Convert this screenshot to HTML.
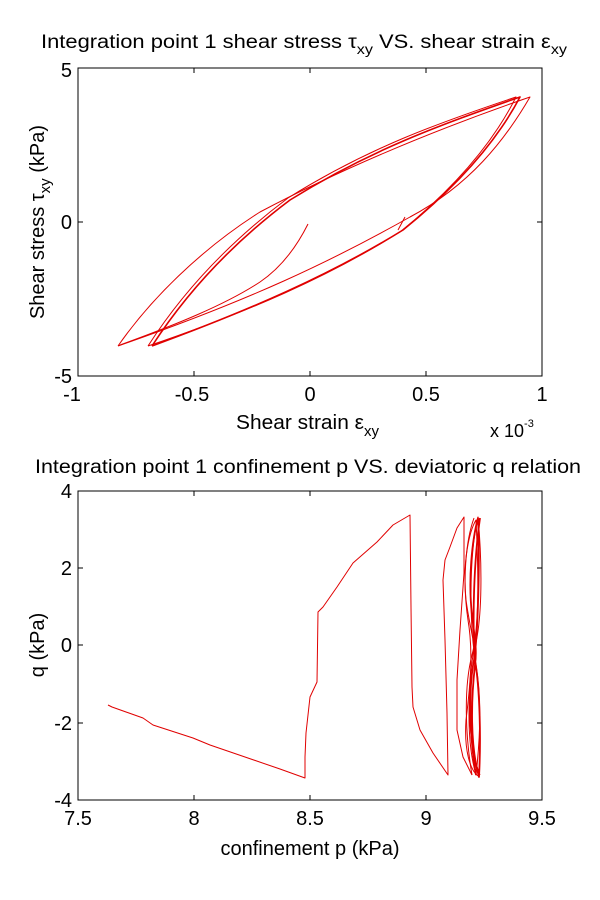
<!DOCTYPE html>
<html><head><meta charset="utf-8"><style>
html,body{margin:0;padding:0;background:#fff}
svg{display:block}
text{font-family:"Liberation Sans",Arial,sans-serif;fill:#000}
</style></head><body>
<svg width="600" height="900" viewBox="0 0 600 900" xmlns="http://www.w3.org/2000/svg">
<rect width="600" height="900" fill="#fff"/>
<!-- TOP AXES -->
<text x="304" y="48" font-size="19" text-anchor="middle" textLength="526" lengthAdjust="spacingAndGlyphs">Integration point 1 shear stress τ<tspan font-size="14" dy="6">xy</tspan><tspan dy="-6"> VS. shear strain ε</tspan><tspan font-size="14" dy="6">xy</tspan></text>
<rect x="78" y="68" width="464" height="308" fill="none" stroke="#000" stroke-width="1"/>
<g stroke="#000" stroke-width="1">
<line x1="194" y1="68" x2="194" y2="73"/><line x1="310" y1="68" x2="310" y2="73"/><line x1="426" y1="68" x2="426" y2="73"/>
<line x1="194" y1="376" x2="194" y2="371"/><line x1="310" y1="376" x2="310" y2="371"/><line x1="426" y1="376" x2="426" y2="371"/>
<line x1="78" y1="222" x2="83" y2="222"/><line x1="542" y1="222" x2="537" y2="222"/>
</g>
<g font-size="20" text-anchor="end">
<text x="72" y="77">5</text><text x="72" y="229">0</text><text x="72" y="383">-5</text>
</g>
<g font-size="20" text-anchor="middle">
<text x="72" y="401">-1</text><text x="192" y="401">-0.5</text><text x="310" y="401">0</text><text x="426" y="401">0.5</text><text x="542" y="401">1</text>
</g>
<text x="236" y="429" font-size="20" textLength="128" lengthAdjust="spacingAndGlyphs">Shear strain ε</text><text x="364" y="436" font-size="15">xy</text>
<text x="490" y="437" font-size="18">x 10<tspan font-size="11" dy="-10">-3</tspan></text>
<text transform="translate(44,222) rotate(-90)" font-size="20" text-anchor="middle">Shear stress τ<tspan font-size="15" dy="6">xy</tspan><tspan dy="-6"> (kPa)</tspan></text>
<g fill="none" stroke="#e00000" stroke-width="1" stroke-linejoin="round">
<path d="M308,224 C300,240 285,265 260,282 C225,305 175,325 120,345"/>
<path d="M118,346 C150,300 200,250 260,212 C330,175 420,135 530,97 C505,140 470,185 410,217 C330,262 250,300 118,346"/>
<path stroke-width="1.6" d="M152,346 C185,295 230,245 290,200 C370,150 440,125 520,97 C500,135 465,180 403,230 C330,275 250,310 152,346"/>
<path d="M148,346 C182,293 228,243 288,198 C368,148 438,123 516,97 C496,137 462,182 400,232 C328,277 248,312 148,346"/>
<polyline points="405,217 398,230"/>
</g>
<!-- BOTTOM AXES -->
<text x="308" y="473" font-size="19" text-anchor="middle" textLength="546" lengthAdjust="spacingAndGlyphs">Integration point 1 confinement p VS. deviatoric q relation</text>
<rect x="78" y="491" width="464" height="309" fill="none" stroke="#000" stroke-width="1"/>
<g stroke="#000" stroke-width="1">
<line x1="194" y1="491" x2="194" y2="496"/><line x1="310" y1="491" x2="310" y2="496"/><line x1="426" y1="491" x2="426" y2="496"/>
<line x1="194" y1="800" x2="194" y2="795"/><line x1="310" y1="800" x2="310" y2="795"/><line x1="426" y1="800" x2="426" y2="795"/>
<line x1="78" y1="568" x2="83" y2="568"/><line x1="78" y1="645" x2="83" y2="645"/><line x1="78" y1="723" x2="83" y2="723"/>
<line x1="542" y1="568" x2="537" y2="568"/><line x1="542" y1="645" x2="537" y2="645"/><line x1="542" y1="723" x2="537" y2="723"/>
</g>
<g font-size="20" text-anchor="end">
<text x="72" y="498">4</text><text x="72" y="575">2</text><text x="72" y="652">0</text><text x="72" y="730">-2</text><text x="72" y="807">-4</text>
</g>
<g font-size="20" text-anchor="middle">
<text x="78" y="825">7.5</text><text x="194" y="825">8</text><text x="310" y="825">8.5</text><text x="426" y="825">9</text><text x="542" y="825">9.5</text>
</g>
<text x="310" y="855" font-size="20" text-anchor="middle">confinement p (kPa)</text>
<text transform="translate(44,645) rotate(-90)" font-size="20" text-anchor="middle">q (kPa)</text>
<g fill="none" stroke="#e00000" stroke-width="1" stroke-linejoin="round">
<polyline points="108,705 112,707 143,718 153,725 193,738 210,745 245,757 280,769 305,778 305,757 306,733 310,697 317,682 318,612 323,607 337,587 353,563 377,542 393,525 410,515 411,607 412,687 413,707 420,730 433,753 448,775 447,713 445,640 443,580 445,560 450,547 457,528 464,517 464,573 460,630 457,680 457,730 463,757 472,775"/>
<path d="M472,775 C466,740 463,690 472,655 C480,625 478,560 476,520 C470,530 462,560 466,600 C470,630 476,645 474,660 C468,690 466,740 476,775 C480,740 482,700 476,665 C470,630 468,560 478,517 C482,560 483,620 474,650 C468,680 466,740 480,775"/>
<path stroke-width="1.8" d="M476,775 C470,740 468,690 474,660 C478,635 480,560 478,518 C472,540 468,580 472,615 C475,640 477,650 475,665 C471,700 470,745 479,777 C481,740 480,690 475,660 C472,620 474,560 480,518"/>
<path d="M474,518 C466,540 462,580 468,620 C473,650 471,680 466,720 C464,750 470,770 478,776"/>
</g>
</svg>
</body></html>
